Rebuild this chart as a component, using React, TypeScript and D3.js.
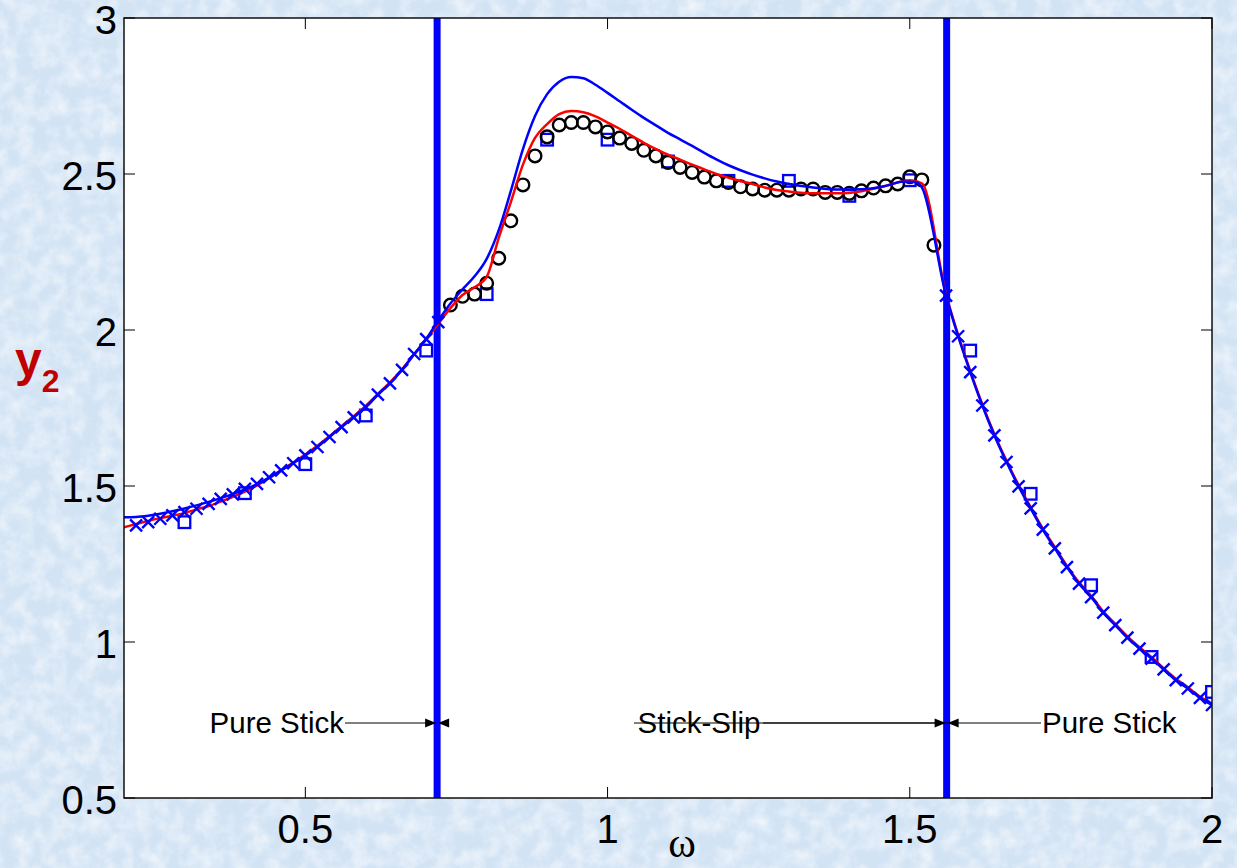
import React from "react";
import * as d3 from "d3";

const W = 1237;
const H = 868;

const xDomain: [number, number] = [0.2, 2];
const yDomain: [number, number] = [0.5, 3];
const xTicks = [0.5, 1, 1.5, 2];
const yTicks = [0.5, 1, 1.5, 2, 2.5, 3];

// regime boundaries (omega)
const boundaries = [0.718, 1.561];

// pure-stick samples (blue crosses)
const stickLeftW = [0.22, 0.24, 0.26, 0.28, 0.3, 0.32, 0.34, 0.36, 0.38, 0.4, 0.42, 0.44, 0.46, 0.48, 0.5, 0.52, 0.54, 0.56, 0.58, 0.6, 0.62, 0.64, 0.66, 0.68, 0.7, 0.72];
const stickLeftY = [1.374, 1.384, 1.395, 1.406, 1.416, 1.427, 1.443, 1.459, 1.473, 1.491, 1.507, 1.528, 1.55, 1.573, 1.598, 1.625, 1.657, 1.689, 1.72, 1.753, 1.793, 1.829, 1.872, 1.923, 1.971, 2.025];
const stickRightW = [1.56, 1.58, 1.6, 1.62, 1.64, 1.66, 1.68, 1.7, 1.72, 1.74, 1.76, 1.78, 1.8, 1.82, 1.84, 1.86, 1.88, 1.9, 1.92, 1.94, 1.96, 1.98, 2.0];
const stickRightY = [2.11, 1.98, 1.865, 1.758, 1.662, 1.577, 1.499, 1.428, 1.36, 1.3, 1.24, 1.187, 1.144, 1.094, 1.054, 1.014, 0.979, 0.947, 0.912, 0.878, 0.851, 0.821, 0.798];

// stick-slip samples (black circles)
const slipW = [0.74, 0.76, 0.78, 0.8, 0.82, 0.84, 0.86, 0.88, 0.9, 0.92, 0.94, 0.96, 0.98, 1.0, 1.02, 1.04, 1.06, 1.08, 1.1, 1.12, 1.14, 1.16, 1.18, 1.2, 1.22, 1.24, 1.26, 1.28, 1.3, 1.32, 1.34, 1.36, 1.38, 1.4, 1.42, 1.44, 1.46, 1.48, 1.5, 1.52, 1.54];
const slipY = [2.08, 2.108, 2.115, 2.15, 2.23, 2.35, 2.465, 2.558, 2.619, 2.657, 2.665, 2.665, 2.651, 2.635, 2.615, 2.598, 2.576, 2.558, 2.537, 2.521, 2.505, 2.49, 2.478, 2.473, 2.459, 2.452, 2.448, 2.448, 2.448, 2.452, 2.452, 2.441, 2.441, 2.438, 2.446, 2.455, 2.462, 2.468, 2.491, 2.481, 2.272];

// coarse samples (blue squares)
const coarseW = [0.3, 0.4, 0.5, 0.6, 0.7, 0.8, 0.9, 1.0, 1.1, 1.2, 1.3, 1.4, 1.5, 1.6, 1.7, 1.8, 1.9, 2.0];
const coarseY = [1.384, 1.477, 1.57, 1.726, 1.934, 2.115, 2.61, 2.61, 2.54, 2.478, 2.478, 2.43, 2.48, 1.934, 1.475, 1.182, 0.952, 0.84];

// blue solid curve
const blueCurveW = [0.2, 0.22, 0.24, 0.26, 0.28, 0.3, 0.32, 0.34, 0.36, 0.38, 0.4, 0.42, 0.44, 0.46, 0.48, 0.5, 0.52, 0.54, 0.56, 0.58, 0.6, 0.62, 0.64, 0.66, 0.68, 0.7, 0.72, 0.74, 0.76, 0.78, 0.8, 0.82, 0.84, 0.86, 0.88, 0.9, 0.92, 0.94, 0.96, 0.98, 1.0, 1.02, 1.04, 1.06, 1.08, 1.1, 1.12, 1.14, 1.16, 1.18, 1.2, 1.22, 1.24, 1.26, 1.28, 1.3, 1.34, 1.38, 1.42, 1.46, 1.49, 1.51, 1.52, 1.56, 1.58, 1.6, 1.62, 1.64, 1.66, 1.68, 1.7, 1.72, 1.74, 1.76, 1.78, 1.8, 1.82, 1.84, 1.86, 1.88, 1.9, 1.92, 1.94, 1.96, 1.98, 2.0];
const blueCurveY = [1.4, 1.401, 1.405, 1.411, 1.419, 1.428, 1.438, 1.449, 1.461, 1.474, 1.489, 1.506, 1.527, 1.55, 1.573, 1.598, 1.625, 1.657, 1.689, 1.72, 1.753, 1.792, 1.829, 1.872, 1.922, 1.972, 2.03, 2.085, 2.13, 2.172, 2.228, 2.32, 2.446, 2.58, 2.686, 2.756, 2.796, 2.811, 2.807, 2.786, 2.76, 2.733, 2.706, 2.68, 2.656, 2.632, 2.611, 2.59, 2.568, 2.547, 2.528, 2.512, 2.498, 2.486, 2.476, 2.468, 2.457, 2.45, 2.451, 2.462, 2.476, 2.474, 2.457, 2.11, 1.98, 1.865, 1.758, 1.662, 1.577, 1.499, 1.428, 1.36, 1.3, 1.24, 1.187, 1.144, 1.094, 1.054, 1.014, 0.979, 0.947, 0.912, 0.878, 0.851, 0.821, 0.798];

// red solid curve
const redCurveW = [0.2, 0.22, 0.24, 0.26, 0.28, 0.3, 0.32, 0.34, 0.36, 0.38, 0.4, 0.42, 0.44, 0.46, 0.48, 0.5, 0.52, 0.54, 0.56, 0.58, 0.6, 0.62, 0.64, 0.66, 0.68, 0.7, 0.72, 0.74, 0.76, 0.78, 0.8, 0.82, 0.84, 0.86, 0.88, 0.9, 0.92, 0.94, 0.96, 0.98, 1.0, 1.02, 1.04, 1.06, 1.08, 1.1, 1.12, 1.14, 1.16, 1.18, 1.2, 1.22, 1.24, 1.26, 1.28, 1.3, 1.34, 1.38, 1.42, 1.46, 1.5, 1.52, 1.56, 1.58, 1.6, 1.62, 1.64, 1.66, 1.68, 1.7, 1.72, 1.74, 1.76, 1.78, 1.8, 1.82, 1.84, 1.86, 1.88, 1.9, 1.92, 1.94, 1.96, 1.98, 2.0];
const redCurveY = [1.368, 1.378, 1.388, 1.397, 1.405, 1.413, 1.425, 1.436, 1.45, 1.465, 1.482, 1.502, 1.525, 1.55, 1.575, 1.601, 1.629, 1.66, 1.692, 1.724, 1.757, 1.795, 1.832, 1.874, 1.922, 1.97, 2.02, 2.07, 2.112, 2.137, 2.17, 2.295, 2.41, 2.53, 2.616, 2.66, 2.692, 2.702, 2.698, 2.685, 2.665, 2.645, 2.622, 2.6, 2.58, 2.562, 2.546, 2.53, 2.515, 2.5, 2.488, 2.477, 2.468, 2.457, 2.449, 2.444, 2.438, 2.438, 2.445, 2.462, 2.48, 2.47, 2.114, 1.984, 1.869, 1.762, 1.666, 1.581, 1.503, 1.432, 1.364, 1.304, 1.244, 1.191, 1.148, 1.098, 1.058, 1.018, 0.983, 0.951, 0.916, 0.882, 0.855, 0.825, 0.802];

// region annotations
const regionLabels = ["Pure Stick", "Stick-Slip", "Pure Stick"];

const BLUE = "#0000ff";
const RED = "#ff0000";

const zip = (ws: number[], ys: number[]) => ws.map((w, i) => [w, ys[i]] as [number, number]);

export default function App() {
  const margin = { left: 124, right: W - 1212, top: 18, bottom: H - 798 };
  const x = d3.scaleLinear().domain(xDomain).range([margin.left, W - margin.right]);
  const y = d3.scaleLinear().domain(yDomain).range([H - margin.bottom, margin.top]);
  const x0 = x.range()[0];
  const x1 = x.range()[1];
  const yTop = y.range()[1];
  const yBot = y.range()[0];

  const line = d3
    .line<[number, number]>()
    .x((d) => x(d[0]))
    .y((d) => y(d[1]))
    .curve(d3.curveMonotoneX);

  const bluePath = line(zip(blueCurveW, blueCurveY)) || "";
  const redPath = line(zip(redCurveW, redCurveY)) || "";

  const crosses = [...zip(stickLeftW, stickLeftY), ...zip(stickRightW, stickRightY)];
  const circles = zip(slipW, slipY);
  const squares = zip(coarseW, coarseY);

  const tickLen = 11;
  const cs = 6;
  const sq = 5.8;

  // annotation row
  const annY = 723;
  const [bL, bR] = boundaries.map((b) => x(b));
  const leftTextEnd = 344;
  const midTextStart = 636;
  const midTextEnd = 762;
  const midTextCenter = (midTextStart + midTextEnd) / 2;
  const rightTextStart = 1042;
  const arrowHead = (tipX: number, dir: 1 | -1) =>
    `M${tipX},${annY} L${tipX - dir * 11},${annY - 4.5} L${tipX - dir * 11},${annY + 4.5} Z`;

  return (
    <svg
      width={W}
      height={H}
      viewBox={`0 0 ${W} ${H}`}
      style={{ position: "absolute", left: 0, top: 0, display: "block" }}
      fontFamily="'Liberation Sans', Arial, sans-serif"
    >
      <defs>
        <filter id="marble" x="0" y="0" width="100%" height="100%">
          <feTurbulence type="fractalNoise" baseFrequency="0.06" numOctaves="4" seed="7" />
          <feColorMatrix
            type="matrix"
            values="0 0 0 0 1  0 0 0 0 1  0 0 0 0 1  0 0 0 1.1 -0.38"
          />
        </filter>
        <clipPath id="plotClip">
          <rect x={x0} y={yTop} width={x1 - x0} height={yBot - yTop} />
        </clipPath>
      </defs>

      {/* page background */}
      <rect x={0} y={0} width={W} height={H} fill="#d2e3f4" />
      <rect x={0} y={0} width={W} height={H} filter="url(#marble)" />

      {/* plot area */}
      <rect x={x0} y={yTop} width={x1 - x0} height={yBot - yTop} fill="#ffffff" />

      {/* ticks (inside, on all four sides) */}
      <g stroke="#000" strokeWidth={1}>
        {xTicks.map((t) => (
          <g key={"xt" + t}>
            <line x1={x(t)} x2={x(t)} y1={yBot} y2={yBot - tickLen} />
            <line x1={x(t)} x2={x(t)} y1={yTop} y2={yTop + tickLen} />
          </g>
        ))}
        {yTicks.map((t) => (
          <g key={"yt" + t}>
            <line x1={x0} x2={x0 + tickLen} y1={y(t)} y2={y(t)} />
            <line x1={x1} x2={x1 - tickLen} y1={y(t)} y2={y(t)} />
          </g>
        ))}
      </g>

      <g clipPath="url(#plotClip)">
        {/* regime boundaries */}
        {boundaries.map((b) => (
          <line key={"b" + b} x1={x(b)} x2={x(b)} y1={yTop} y2={yBot} stroke={BLUE} strokeWidth={7} />
        ))}

        {/* coarse samples */}
        {squares.map(([w, v], i) => (
          <rect
            key={"sq" + i}
            x={x(w) - sq}
            y={y(v) - sq}
            width={sq * 2}
            height={sq * 2}
            fill="none"
            stroke={BLUE}
            strokeWidth={2.3}
          />
        ))}

        {/* stick-slip samples */}
        {circles.map(([w, v], i) => (
          <circle key={"c" + i} cx={x(w)} cy={y(v)} r={6.3} fill="none" stroke="#000" strokeWidth={2.4} />
        ))}

        <path d={redPath} fill="none" stroke={RED} strokeWidth={2.5} />
        <path d={bluePath} fill="none" stroke={BLUE} strokeWidth={2.5} />

        {/* pure-stick samples */}
        {crosses.map(([w, v], i) => {
          const cx = x(w);
          const cy = y(v);
          return (
            <path
              key={"x" + i}
              d={`M${cx - cs},${cy - cs}L${cx + cs},${cy + cs}M${cx - cs},${cy + cs}L${cx + cs},${cy - cs}`}
              stroke={BLUE}
              strokeWidth={2.4}
            />
          );
        })}
      </g>

      {/* axes box */}
      <rect x={x0} y={yTop} width={x1 - x0} height={yBot - yTop} fill="none" stroke="#000" strokeWidth={1.4} />

      {/* region annotations */}
      <g stroke="#000" strokeWidth={1}>
        <line x1={leftTextEnd + 1} x2={bL - 8} y1={annY} y2={annY} />
        <line x1={bR + 8} x2={midTextStart - 2} y1={annY} y2={annY} />
        <line x1={midTextEnd + 1} x2={x(boundaries[1]) - 8} y1={annY} y2={annY} />
        <line x1={x(boundaries[1]) + 8} x2={rightTextStart - 1} y1={annY} y2={annY} />
      </g>
      <g fill="#000">
        <path d={arrowHead(bL - 1, 1)} />
        <path d={arrowHead(bL + 1, -1)} />
        <path d={arrowHead(bR - 1, 1)} />
        <path d={arrowHead(bR + 1, -1)} />
      </g>
      <g fontSize={29.5} fill="#000">
        <text x={leftTextEnd} y={annY + 10} textAnchor="end">{regionLabels[0]}</text>
        <text x={midTextCenter} y={annY + 10} textAnchor="middle">{regionLabels[1]}</text>
        <text x={rightTextStart} y={annY + 10} textAnchor="start">{regionLabels[2]}</text>
      </g>

      {/* tick labels */}
      <g fontSize={40} fill="#000">
        {xTicks.map((t) => (
          <text key={"xl" + t} x={x(t)} y={843} textAnchor="middle">
            {d3.format("")(t)}
          </text>
        ))}
        {yTicks.map((t) => (
          <text key={"yl" + t} x={117} y={y(t) + 16} textAnchor="end">
            {d3.format("")(t)}
          </text>
        ))}
      </g>

      {/* axis titles */}
      <text x={682} y={857} textAnchor="middle" fontSize={42} fontFamily="'Liberation Serif', 'Times New Roman', serif" fill="#000">
        ω
      </text>
      <text x={15} y={376} fontSize={48} fontWeight="bold" fill="#c00000">
        y
        <tspan fontSize={32} dy={16}>2</tspan>
      </text>
    </svg>
  );
}
